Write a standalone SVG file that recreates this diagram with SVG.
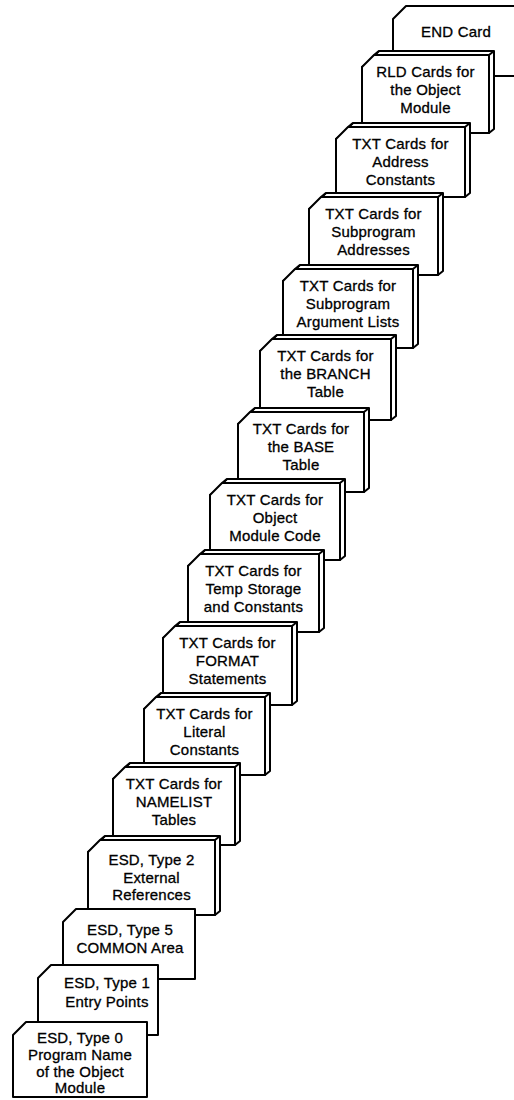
<svg xmlns="http://www.w3.org/2000/svg" width="514" height="1100" viewBox="0 0 514 1100">
<style>
  .bg{fill:#fff}
  .sh{fill:#fff;stroke:#000;stroke-width:2;stroke-linejoin:round}
  .fr{fill:#fff;stroke:#000;stroke-width:2;stroke-linejoin:round}
  .ln{fill:none;stroke:#000;stroke-width:2}
  text{font-family:"Liberation Sans","DejaVu Sans",sans-serif;font-size:15px;fill:#000;stroke:#000;stroke-width:0.3;text-anchor:middle;letter-spacing:0.2px}
</style>
<rect class="bg" x="0" y="0" width="514" height="1100"/>

<g id="card-end" transform="translate(393,6)">
  <polygon class="fr" points="0,13 13,0 140,0 140,70 0,70"/>
  <text x="63" y="31">END Card</text>
</g>

<g id="card-rld" transform="translate(362,55)">
  <polygon class="sh" points="0,12 5,8 17,-4 132,-4 132,74 127,78 0,78"/>
  <polygon class="fr" points="0,12 12,0 127,0 127,78 0,78"/>
  <path class="ln" d="M12,0 L17,-4 M127,0 L132,-4"/>
  <text x="63.5" y="22">RLD Cards for</text>
  <text x="63.5" y="40">the Object</text>
  <text x="63.5" y="58">Module</text>
</g>

<g id="card-txt-address" transform="translate(336,127)">
  <polygon class="sh" points="0,12 5,8 17,-4 134,-4 134,66 129,70 0,70"/>
  <polygon class="fr" points="0,12 12,0 129,0 129,70 0,70"/>
  <path class="ln" d="M12,0 L17,-4 M129,0 L134,-4"/>
  <text x="64.5" y="22">TXT Cards for</text>
  <text x="64.5" y="40">Address</text>
  <text x="64.5" y="58">Constants</text>
</g>

<g id="card-txt-subaddr" transform="translate(309,197)">
  <polygon class="sh" points="0,12 5,8 17,-4 134,-4 134,74 129,78 0,78"/>
  <polygon class="fr" points="0,12 12,0 129,0 129,78 0,78"/>
  <path class="ln" d="M12,0 L17,-4 M129,0 L134,-4"/>
  <text x="64.5" y="22">TXT Cards for</text>
  <text x="64.5" y="40">Subprogram</text>
  <text x="64.5" y="58">Addresses</text>
</g>

<g id="card-txt-arglists" transform="translate(283,269)">
  <polygon class="sh" points="0,12 5,8 17,-4 135,-4 135,75 130,79 0,79"/>
  <polygon class="fr" points="0,12 12,0 130,0 130,79 0,79"/>
  <path class="ln" d="M12,0 L17,-4 M130,0 L135,-4"/>
  <text x="65" y="22">TXT Cards for</text>
  <text x="65" y="40">Subprogram</text>
  <text x="65" y="58">Argument Lists</text>
</g>

<g id="card-txt-branch" transform="translate(260,339)">
  <polygon class="sh" points="0,12 5,8 17,-4 136,-4 136,77 131,81 0,81"/>
  <polygon class="fr" points="0,12 12,0 131,0 131,81 0,81"/>
  <path class="ln" d="M12,0 L17,-4 M131,0 L136,-4"/>
  <text x="65.5" y="22">TXT Cards for</text>
  <text x="65.5" y="40">the BRANCH</text>
  <text x="65.5" y="58">Table</text>
</g>

<g id="card-txt-base" transform="translate(238,412)">
  <polygon class="sh" points="0,12 5,8 17,-4 131,-4 131,76 126,80 0,80"/>
  <polygon class="fr" points="0,12 12,0 126,0 126,80 0,80"/>
  <path class="ln" d="M12,0 L17,-4 M126,0 L131,-4"/>
  <text x="63" y="22">TXT Cards for</text>
  <text x="63" y="40">the BASE</text>
  <text x="63" y="58">Table</text>
</g>

<g id="card-txt-objcode" transform="translate(210,483)">
  <polygon class="sh" points="0,12 5,8 17,-4 135,-4 135,73 130,77 0,77"/>
  <polygon class="fr" points="0,12 12,0 130,0 130,77 0,77"/>
  <path class="ln" d="M12,0 L17,-4 M130,0 L135,-4"/>
  <text x="65" y="22">TXT Cards for</text>
  <text x="65" y="40">Object</text>
  <text x="65" y="58">Module Code</text>
</g>

<g id="card-txt-temp" transform="translate(188,554)">
  <polygon class="sh" points="0,12 5,8 17,-4 136,-4 136,74 131,78 0,78"/>
  <polygon class="fr" points="0,12 12,0 131,0 131,78 0,78"/>
  <path class="ln" d="M12,0 L17,-4 M131,0 L136,-4"/>
  <text x="65.5" y="22">TXT Cards for</text>
  <text x="65.5" y="40">Temp Storage</text>
  <text x="65.5" y="58">and Constants</text>
</g>

<g id="card-txt-format" transform="translate(163,626)">
  <polygon class="sh" points="0,12 5,8 17,-4 134,-4 134,75 129,79 0,79"/>
  <polygon class="fr" points="0,12 12,0 129,0 129,79 0,79"/>
  <path class="ln" d="M12,0 L17,-4 M129,0 L134,-4"/>
  <text x="64.5" y="22">TXT Cards for</text>
  <text x="64.5" y="40">FORMAT</text>
  <text x="64.5" y="58">Statements</text>
</g>

<g id="card-txt-literal" transform="translate(144,697)">
  <polygon class="sh" points="0,12 5,8 17,-4 126,-4 126,74 121,78 0,78"/>
  <polygon class="fr" points="0,12 12,0 121,0 121,78 0,78"/>
  <path class="ln" d="M12,0 L17,-4 M121,0 L126,-4"/>
  <text x="60.5" y="22">TXT Cards for</text>
  <text x="60.5" y="40">Literal</text>
  <text x="60.5" y="58">Constants</text>
</g>

<g id="card-txt-namelist" transform="translate(113,767)">
  <polygon class="sh" points="0,12 5,8 17,-4 127,-4 127,74 122,78 0,78"/>
  <polygon class="fr" points="0,12 12,0 122,0 122,78 0,78"/>
  <path class="ln" d="M12,0 L17,-4 M122,0 L127,-4"/>
  <text x="61" y="22">TXT Cards for</text>
  <text x="61" y="40">NAMELIST</text>
  <text x="61" y="58">Tables</text>
</g>

<g id="card-esd2" transform="translate(88,840)">
  <polygon class="sh" points="0,12 5,8 17,-4 132,-4 132,71 127,75 0,75"/>
  <polygon class="fr" points="0,12 12,0 127,0 127,75 0,75"/>
  <path class="ln" d="M12,0 L17,-4 M127,0 L132,-4"/>
  <text x="63.5" y="25">ESD, Type 2</text>
  <text x="63.5" y="43">External</text>
  <text x="63.5" y="60">References</text>
</g>

<g id="card-esd5" transform="translate(63,909)">
  <polygon class="fr" points="0,13 13,0 132,0 132,70 0,70"/>
  <text x="67" y="26">ESD, Type 5</text>
  <text x="67" y="44">COMMON Area</text>
</g>

<g id="card-esd1" transform="translate(38,965)">
  <polygon class="fr" points="0,13 13,0 120,0 120,70 0,70"/>
  <text x="69" y="23">ESD, Type 1</text>
  <text x="69" y="42">Entry Points</text>
</g>

<g id="card-esd0" transform="translate(13,1022)">
  <polygon class="fr" points="0,13 13,0 134,0 134,75 0,75"/>
  <text x="67" y="21">ESD, Type 0</text>
  <text x="67" y="38">Program Name</text>
  <text x="67" y="55">of the Object</text>
  <text x="67" y="71">Module</text>
</g>
</svg>
